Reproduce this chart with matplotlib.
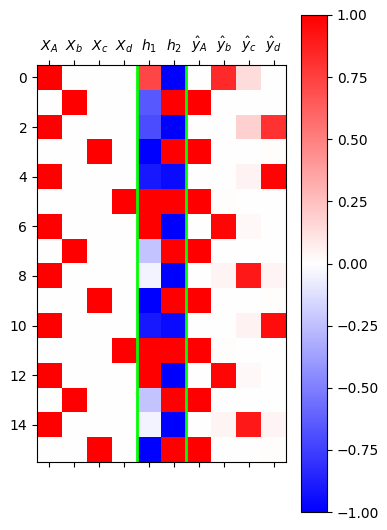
import numpy as np
import matplotlib
matplotlib.use("Agg")
import matplotlib.pyplot as plt

# etiquetas de columnas
labels = [r"$X_A$", r"$X_b$", r"$X_c$", r"$X_d$", r"$h_1$", r"$h_2$",
          r"$\hat{y}_A$", r"$\hat{y}_b$", r"$\hat{y}_c$", r"$\hat{y}_d$"]

# entradas (one-hot)
X = [
    [1, 0, 0, 0], [0, 1, 0, 0], [1, 0, 0, 0], [0, 0, 1, 0],
    [1, 0, 0, 0], [0, 0, 0, 1], [1, 0, 0, 0], [0, 1, 0, 0],
    [1, 0, 0, 0], [0, 0, 1, 0], [1, 0, 0, 0], [0, 0, 0, 1],
    [1, 0, 0, 0], [0, 1, 0, 0], [1, 0, 0, 0], [0, 0, 1, 0],
]
# capa oculta
h1 = [0.72, -0.65, -0.70, -1.0, -0.90, 1.0, 1.0, -0.23,
      -0.04, -1.0, -0.90, 1.0, 1.0, -0.23, -0.04, -1.0]
h2 = [-1.0, 1.0, -1.0, 1.0, -0.96, 1.0, -1.0, 1.0,
      -1.0, 1.0, -0.96, 1.0, -1.0, 1.0, -1.0, 1.0]
# salidas
y_hat = [
    [0.0, 0.83, 0.14, 0.0], [1.0, 0.0, 0.0, 0.0], [0.0, 0.0, 0.18, 0.80], [1.0, 0.0, 0.0, 0.01],
    [0.0, 0.0, 0.05, 0.98], [1.0, 0.01, 0.0, 0.0], [0.0, 0.97, 0.03, 0.0], [1.0, 0.0, 0.0, 0.0],
    [0.0, 0.04, 0.90, 0.04], [1.0, 0.0, 0.0, 0.01], [0.0, 0.0, 0.05, 0.95], [1.0, 0.01, 0.0, 0.0],
    [0.0, 0.97, 0.03, 0.0], [1.0, 0.0, 0.0, 0.0], [0.0, 0.04, 0.90, 0.04], [1.0, 0.0, 0.0, 0.01],
]

data = np.hstack([np.array(X), np.array(h1)[:, None], np.array(h2)[:, None], np.array(y_hat)])

fig = plt.figure(figsize=(3.87, 5.30), dpi=100)
ax = fig.add_axes([37/387, 1 - 462/530, 249/387, 397/530])
im = ax.imshow(data, cmap="bwr", vmin=-1, vmax=1, aspect="auto")
ax.axvline(3.5, color="lime", lw=2)
ax.axvline(5.5, color="lime", lw=2)
ax.set_xticks(range(len(labels)))
ax.set_xticklabels(labels, fontsize=10)
ax.tick_params(top=True, labeltop=True, bottom=True, labelbottom=False)

cax = fig.add_axes([301/387, 1 - 512/530, 26/387, 497/530])
fig.colorbar(im, cax=cax)

fig.savefig("out.png", dpi=100)
